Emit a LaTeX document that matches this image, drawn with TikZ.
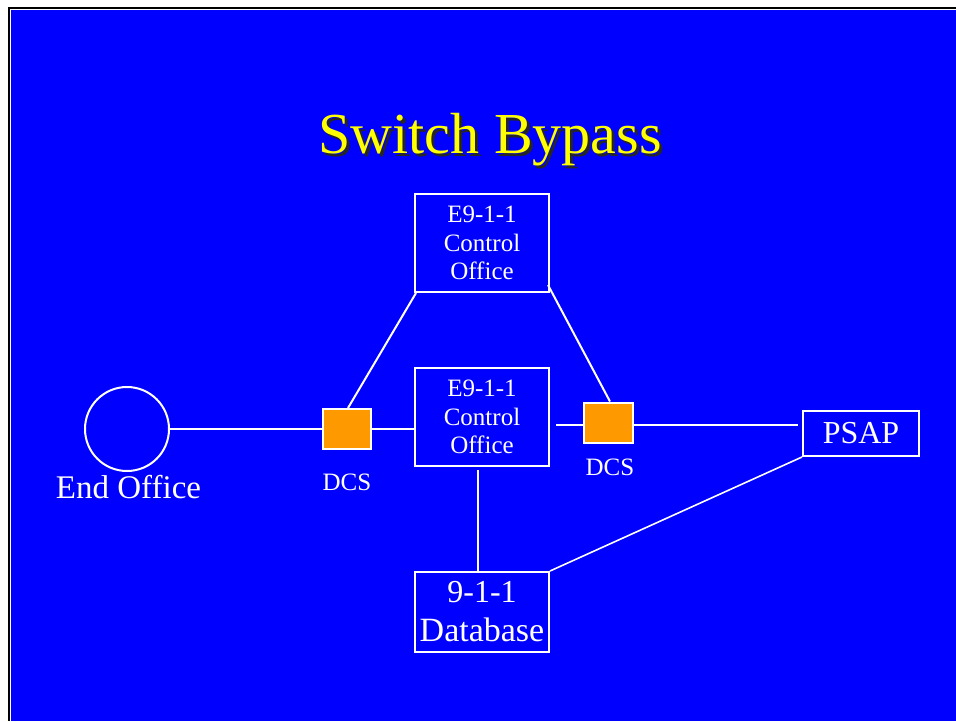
\documentclass[tikz,border=0pt]{standalone}
\usepackage{fontspec}
\setmainfont{Liberation Serif}
\definecolor{slideblue}{RGB}{0,0,255}
\definecolor{dcsorange}{RGB}{255,153,0}
\definecolor{titleyellow}{RGB}{255,255,0}
\tikzset{
  wline/.style={draw=white, line width=2pt},
  officebox/.style={draw=white, line width=2pt, rectangle, inner sep=0pt, minimum width=134pt, minimum height=98pt, text=white, align=center, font=\fontsize{25}{28.5}\selectfont},
  bigbox/.style={draw=white, line width=2pt, rectangle, inner sep=0pt, text=white, align=center, font=\fontsize{32}{39}\selectfont},
  dcsbox/.style={draw=white, line width=2pt, fill=dcsorange, rectangle, inner sep=0pt, minimum width=48pt, minimum height=40pt},
  smalllabel/.style={text=white, inner sep=0pt, anchor=base, font=\fontsize{25}{28}\selectfont},
  biglabel/.style={text=white, inner sep=0pt, anchor=base, font=\fontsize{33}{38}\selectfont},
}
\begin{document}
\begin{tikzpicture}[x=1pt, y=-1pt]
\useasboundingbox (0,0) rectangle (956,721);
% frame and background
\fill[white] (0,0) rectangle (956,721);
\fill[black] (8,7) rectangle (956,721);
\fill[white] (10,9) rectangle (956,721);
\fill[slideblue] (11,10) rectangle (956,721);
% title
\node[anchor=base, inner sep=0pt, text=black!85, font=\fontsize{58}{64}\selectfont] (titleshadow) at (493,156) {Switch Bypass};
\node[anchor=base, inner sep=0pt, text=titleyellow, font=\fontsize{58}{64}\selectfont] (title) at (490,153) {Switch Bypass};
% nodes
\node[circle, draw=white, line width=2pt, minimum size=84pt, inner sep=0pt] (eo) at (127,429) {};
\node[biglabel] (eolabel) at (128.5,498) {End Office};
\node[officebox] (top) at (482,243) {E9-1-1\\Control\\Office};
\node[officebox] (mid) at (482,417) {E9-1-1\\Control\\Office};
\node[bigbox, minimum width=134pt, minimum height=80pt] (db) at (482,612) {9-1-1\\\fontsize{34}{39}\selectfont Database};
\node[bigbox, minimum width=116pt, minimum height=45pt] (psap) at (861,433.5) {PSAP};
\node[dcsbox] (dcsL) at (347,429) {};
\node[dcsbox, minimum width=49pt] (dcsR) at (608.5,422.5) {};
\node[smalllabel] (dcsLlabel) at (347,490) {DCS};
\node[smalllabel] (dcsRlabel) at (610,475) {DCS};
% helper coordinates
\coordinate (rl) at ([yshift=-2.5pt]dcsR.west);
\coordinate (rr) at ([yshift=-2.5pt]dcsR.east);
\coordinate (me) at ([xshift=6pt]mid.east);
\coordinate (pw) at ([xshift=-4pt]psap.west);
\coordinate (vt) at ([xshift=-4pt,yshift=-3pt]mid.south);
\coordinate (tse) at ([xshift=-2pt,yshift=8pt]top.south east);
\coordinate (tsw) at ([xshift=2pt]top.south west);
\coordinate (dln) at ([xshift=1pt]dcsL.north);
\coordinate (drn) at ([xshift=1.5pt]dcsR.north);
% connectors
\draw[wline] (eo.east) -- (dcsL.west);
\draw[wline] (dcsL.east) -- (dcsL.east -| mid.west);
\draw[wline] (tsw) -- (dln);
\draw[wline] (tse) -- (drn);
\draw[wline] (me |- rl) -- (rl);
\draw[wline] (rr) -- (pw |- rr);
\draw[wline] (vt) -- (vt |- db.north);
\draw[draw=white, line width=1.6pt] (db.north east) -- (psap.south west);
\end{tikzpicture}
\end{document}
